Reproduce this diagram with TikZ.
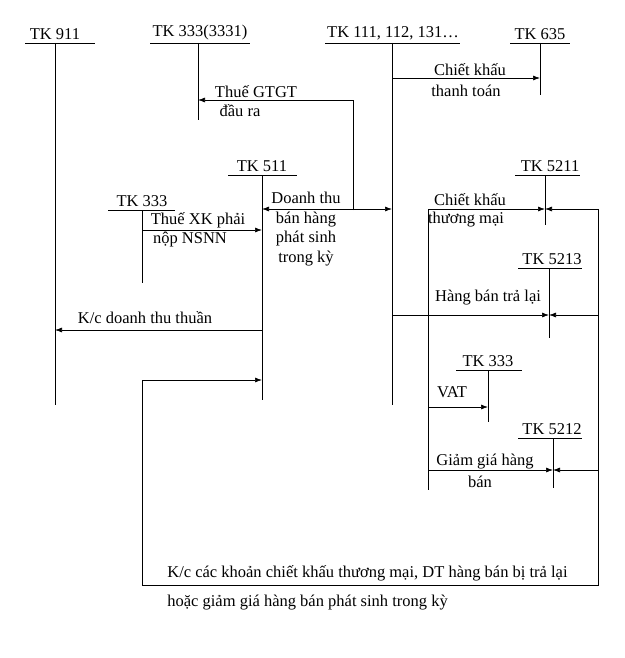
\documentclass[tikz,border=0pt]{standalone}
\usepackage{fontspec}
\setmainfont{Liberation Serif}
\usetikzlibrary{arrows.meta,calc}
\tikzset{>=latex}
\tikzset{
  acct/.style={inner sep=1pt,anchor=south},
  flow/.style={->,>={Latex[length=7pt,width=5pt]}},
  lbl/.style={inner sep=1pt,align=center},
}
\begin{document}
\begin{tikzpicture}[x=1pt,y=-1pt,font=\fontsize{16.5}{19.5}\selectfont,line width=0.7pt]
\useasboundingbox (0,0) rectangle (624,658);
% accounts: title, bar, vertical
\node[acct] (t911) at (55,41) {TK 911};
\draw (25,43) -- (95,43); \coordinate (a911) at (55,43); \draw (a911) -- (55,405);
\node[acct] (t3331) at (200,41) {TK 333(3331)};
\draw (150,43) -- (250,43); \coordinate (a3331) at (198,43); \draw (a3331) -- (198,120);
\node[acct] (t111) at (393,41) {TK 111, 112, 131\ldots};
\draw (325,43) -- (460,43); \coordinate (a111) at (392,43); \draw (a111) -- (392,405);
\node[acct] (t635) at (540,41) {TK 635};
\draw (510,43) -- (570,43); \coordinate (a635) at (540,43); \draw (a635) -- (540,95);
\node[acct] (t511) at (262,173) {TK 511};
\draw (228,175) -- (297,175); \coordinate (a511) at (262,175); \draw (a511) -- (262,400);
\node[acct] (t333a) at (142,208) {TK 333};
\draw (108,210) -- (175,210); \coordinate (a333a) at (142,210); \draw (a333a) -- (142,283);
\node[acct] (t5211) at (550,173) {TK 5211};
\draw (515,175) -- (580,175); \coordinate (a5211) at (545,175); \draw (a5211) -- (545,225);
\node[acct] (t5213) at (552,266) {TK 5213};
\draw (518,268) -- (582,268); \coordinate (a5213) at (549,268); \draw (a5213) -- (549,338);
\node[acct] (t333b) at (488,368) {TK 333};
\draw (456,370) -- (522,370); \coordinate (a333b) at (488,370); \draw (a333b) -- (488,422);
\node[acct] (t5212) at (552,436) {TK 5212};
\draw (518,438) -- (582,438); \coordinate (a5212) at (553,438); \draw (a5212) -- (553,488);
% connectors
\draw[flow] (392,78) -- (540,78);
\node[lbl] (ckt) at (470,70) {Chiết khấu};
\node[lbl] (ckt2) at (466,91) {thanh toán};
\draw[flow] (353,210) -- (353,100) -- (198,100);
\node[lbl] (gtgt) at (256,92) {Thuế GTGT};
\node[lbl] (gtgt2) at (240,111) {đầu ra};
\draw[<->,>={Latex[length=7pt,width=5pt]}] (262,209) -- (392,209);
\node[lbl] (dt) at (306,229) {Doanh thu\\bán hàng\\phát sinh\\trong kỳ};
\draw[flow] (142,230) -- (262,230);
\node[lbl] (xk) at (198,220) {Thuế XK phải};
\node[lbl] (xk2) at (190,240) {nộp NSNN};
\draw[flow] (262,330) -- (55,330);
\node[lbl] (kc) at (145,318) {K/c doanh thu thuần};
% right side
\draw (428,209) -- (428,490);
\draw[flow] (428,209) -- (545,209);
\draw[flow] (598,209) -- (545,209);
\node[lbl] (ckm) at (470,200) {Chiết khấu};
\node[lbl] (ckm2) at (466,220) {thương mại};
\draw[flow] (392,315) -- (549,315);
\draw[flow] (598,315) -- (549,315);
\node[lbl] (hbt) at (488,298) {Hàng bán trả lại};
\draw[flow] (428,407) -- (488,407);
\node[lbl] (vat) at (452,392) {VAT};
\draw[flow] (428,470) -- (553,470);
\draw[flow] (598,470) -- (553,470);
\node[lbl] (gg) at (485,462) {Giảm giá hàng};
\node[lbl] (gg2) at (480,482) {bán};
% closing loop
\draw[flow] (598,209) -- (598,585) -- (142,585) -- (142,380) -- (262,380);
\node[anchor=west,inner sep=0pt] (kc2) at (167,573) {K/c các khoản chiết khấu thương mại, DT hàng bán bị trả lại};
\node[anchor=west,inner sep=0pt] (kc3) at (167,603) {hoặc giảm giá hàng bán phát sinh trong kỳ};
\end{tikzpicture}
\end{document}
